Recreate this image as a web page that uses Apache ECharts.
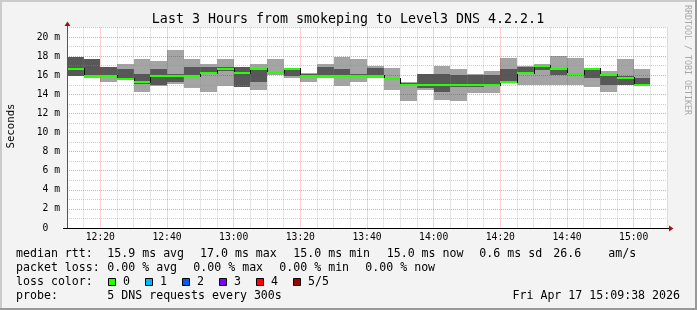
<!DOCTYPE html>
<html><head><meta charset="utf-8">
<script src="https://cdn.jsdelivr.net/npm/echarts@6/dist/echarts.min.js"></script>
<style>html,body{margin:0;padding:0;background:#f3f3f3}#c{width:697px;height:310px}</style>
</head><body><div id="c"></div>
<script>
// ---- data (minutes since midnight; 5-minute steps starting 12:10) ----
const startMinute = 730;
const stepMinutes = 5;
const ping1 = [15.95,15.7,15.25,15.5,14.2,14.9,15.1,14.7,14.2,14.9,14.75,14.45,16.0,15.7,15.25,15.7,14.9,15.25,15.7,14.5,13.3,14.5,13.45,13.3,14.1,14.1,15.15,15.0,14.94,14.94,14.94,14.72,14.2,14.93,14.93];
const ping2 = [15.95,15.9,15.95,15.65,15.1,14.95,15.25,15.95,16.15,16.45,14.75,15.25,16.15,15.95,15.95,15.95,15.9,15.9,15.95,15.5,14.9,14.7,14.2,14.8,14.75,14.95,15.2,16.1,16.6,16.0,16.0,15.7,14.93,14.93,14.93];
const medianRtt = [16.7,15.95,15.95,15.65,15.25,15.95,15.95,15.95,16.2,16.7,16.2,16.65,16.2,16.65,15.95,15.95,15.95,15.95,15.95,15.6,14.95,14.95,14.95,14.95,14.95,14.95,15.25,16.2,16.95,16.68,16.15,16.7,15.98,15.67,15.0];
const ping4 = [17.95,17.75,16.9,16.7,16.15,16.7,16.15,16.9,16.9,16.9,16.9,16.7,16.25,16.7,16.15,16.9,16.7,16.15,16.8,15.7,15.2,16.1,16.1,16.05,16.05,16.0,16.68,16.9,16.95,16.7,16.25,16.7,15.98,15.95,15.7];
const ping5 = [17.95,17.75,16.9,17.2,17.7,17.45,18.65,17.7,17.2,17.75,16.9,17.2,17.75,16.7,16.2,17.2,17.95,17.75,16.92,16.75,15.25,16.1,16.92,16.7,16.1,16.47,17.8,16.93,17.17,17.97,17.8,16.75,16.47,17.72,16.68];

const xTickLabels = ['12:20','12:40','13:00','13:20','13:40','14:00','14:20','14:40','15:00'];
const yTickLabels = ['0  ','2 m','4 m','6 m','8 m','10 m','12 m','14 m','16 m','18 m','20 m'];

const titleText = 'Last 3 Hours from smokeping to Level3 DNS 4.2.2.1';
const rttLine = ['median rtt:','15.9 ms avg','17.0 ms max','15.0 ms min','15.0 ms now','0.6 ms sd','26.6','am/s'];
const lossLine = ['packet loss:','0.00 % avg','0.00 % max','0.00 % min','0.00 % now'];
const lossLabels = ['0','1','2','3','4','5/5'];
const lossColors = ['#26ff00','#00b8ff','#0059ff','#7e00ff','#ff0000','#a00000'];
const probeLine = ['probe:','5 DNS requests every 300s'];
const dateText = 'Fri Apr 17 15:09:38 2026';

// ---- layout ----
const G = {left:67, top:27.5, width:600, height:200.5};
const axisY = G.top + G.height;
const MONO = '"DejaVu Sans Mono", monospace';
const rttX = [16,107.3,200,293.3,386.7,479.3,553.3,608.3];
const lossX = [16,107.3,193.3,279.3,365.3];

const smokeData = ping1.map((v,k)=>[startMinute+k*stepMinutes, ping1[k], ping2[k], medianRtt[k], ping4[k], ping5[k]]);
const medData = medianRtt.map((v,k)=>[startMinute+k*stepMinutes, v, k>0?medianRtt[k-1]:v]);

function rectBetween(api, t, lo, hi, fill){
  const a = api.coord([t, hi]), b = api.coord([t+stepMinutes, lo]);
  const x0 = Math.round(a[0]), x1 = Math.round(b[0]);
  const y0 = Math.round(a[1]), y1 = Math.round(b[1]);
  return {type:'rect', shape:{x:x0, y:y0, width:x1-x0, height:Math.max(0,y1-y0)}, style:{fill:fill}};
}
function renderSmoke(params, api){
  const t = api.value(0);
  return {type:'group', children:[
    rectBetween(api, t, api.value(1), api.value(5), '#a4a4a4'),
    rectBetween(api, t, api.value(2), api.value(4), '#585858')
  ]};
}
function renderMedian(params, api){
  const t = api.value(0), m = api.value(1), prev = api.value(2);
  const p0 = api.coord([t, m]), p1 = api.coord([t+stepMinutes, m]);
  const x0 = Math.round(p0[0]), x1 = Math.round(p1[0]), y = Math.round(p0[1]);
  const py = Math.round(api.coord([t, prev])[1]);
  return {type:'group', children:[
    {type:'rect', shape:{x:x0, y:Math.min(py,y)-1, width:1, height:Math.abs(py-y)+2}, style:{fill:'#111'}},
    {type:'rect', shape:{x:x0, y:y-1, width:x1-x0, height:2}, style:{fill:'#26ff00'}}
  ]};
}

function txt(text, x, y, size, opt){
  opt = opt || {};
  return {type:'text', x:x, y:y, rotation:opt.rot||0, z:10, silent:true,
    style:{text:text, font:size+'px '+MONO, fill:opt.fill||'#000',
      align:opt.align||'left', verticalAlign:'middle', textAlign:opt.align||'left', textVerticalAlign:'middle'}};
}

const graphics = [];
// frame
graphics.push({type:'rect', shape:{x:0,y:0,width:697,height:2}, style:{fill:'#cbcbcb'}, z:20});
graphics.push({type:'rect', shape:{x:0,y:0,width:2,height:310}, style:{fill:'#cbcbcb'}, z:20});
graphics.push({type:'rect', shape:{x:0,y:308,width:697,height:2}, style:{fill:'#999999'}, z:20});
graphics.push({type:'rect', shape:{x:695,y:0,width:2,height:310}, style:{fill:'#999999'}, z:20});
// axes lines and arrows
graphics.push({type:'line', shape:{x1:G.left+0.5, y1:axisY+1, x2:G.left+0.5, y2:G.top-2}, style:{stroke:'#555', lineWidth:1}, z:12});
graphics.push({type:'line', shape:{x1:G.left-4, y1:axisY+0.5, x2:G.left+G.width+3, y2:axisY+0.5}, style:{stroke:'#000', lineWidth:1}, z:12});
graphics.push({type:'polygon', shape:{points:[[G.left-2.5,G.top-1.5],[G.left+3.5,G.top-1.5],[G.left+0.5,G.top-6]]}, style:{fill:'#a01010'}, z:13});
graphics.push({type:'polygon', shape:{points:[[G.left+G.width+2,axisY-2.5],[G.left+G.width+2,axisY+3.5],[G.left+G.width+6.5,axisY+0.5]]}, style:{fill:'#a01010'}, z:13});
// title, axis name, watermark
graphics.push(txt(titleText, 348, 19.5, 13.3, {align:'center'}));
graphics.push(txt('Seconds', 11, 126, 10.7, {align:'center', rot:Math.PI/2}));
graphics.push(txt('RRDTOOL / TOBI OETIKER', 687.5, 5, 8.3, {rot:-Math.PI/2, fill:'#a8a8a8'}));
// legend
rttLine.forEach((s,i)=>graphics.push(txt(s, rttX[i], 254, 11.6)));
lossLine.forEach((s,i)=>graphics.push(txt(s, lossX[i], 268, 11.6)));
graphics.push(txt('loss color:', 16, 282, 11.6));
lossLabels.forEach((s,i)=>{
  const bx = 108 + 37*i;
  graphics.push({type:'rect', shape:{x:bx+0.5, y:278.5, width:7, height:7}, style:{fill:lossColors[i], stroke:'#000', lineWidth:1}, z:10});
  graphics.push(txt(s, bx+15, 282, 11.6));
});
graphics.push(txt(probeLine[0], 16, 296, 11.6));
graphics.push(txt(probeLine[1], 107.3, 296, 11.6));
graphics.push(txt(dateText, 680, 296, 11.6, {align:'right'}));

const gridGray = 'rgba(140,140,140,0.42)';
const gridRed = 'rgba(255,0,0,0.38)';

const option = {
  animation:false,
  backgroundColor:'#f3f3f3',
  grid:{left:G.left, top:G.top, width:G.width, height:G.height, show:true, backgroundColor:'#ffffff', borderWidth:0},
  xAxis:{type:'value', min:startMinute, max:startMinute+180, interval:5, z:4,
    axisLine:{show:false}, axisTick:{show:false},
    axisLabel:{margin:4, fontFamily:'DejaVu Sans Mono', fontSize:9.7, color:'#000', hideOverlap:false,
      formatter:function(v){ const i=(v-740)/20; return (Number.isInteger(i)&&i>=0&&i<xTickLabels.length)?xTickLabels[i]:''; }},
    splitLine:{show:true, lineStyle:{color:[gridGray,gridGray,gridRed,gridGray], type:[1,1], width:1}}
  },
  yAxis:{type:'value', min:0, max:21, interval:1, z:4,
    axisLine:{show:false}, axisTick:{show:false},
    axisLabel:{margin:7, fontFamily:'DejaVu Sans Mono', fontSize:9.7, color:'#000',
      formatter:function(v){ return (v%2===0 && v/2<yTickLabels.length)?yTickLabels[v/2]:''; }},
    splitLine:{show:true, lineStyle:{color:[gridRed,gridGray], type:[1,1], width:1}}
  },
  series:[
    {type:'custom', z:2, renderItem:renderSmoke, data:smokeData, encode:{x:0, y:[1,5]}, silent:true, clip:true},
    {type:'custom', z:6, renderItem:renderMedian, data:medData, encode:{x:0, y:1}, silent:true, clip:true}
  ],
  graphic:graphics
};
const chart = echarts.init(document.getElementById('c'), null, {renderer:'canvas'});
chart.setOption(option);
</script></body></html>
